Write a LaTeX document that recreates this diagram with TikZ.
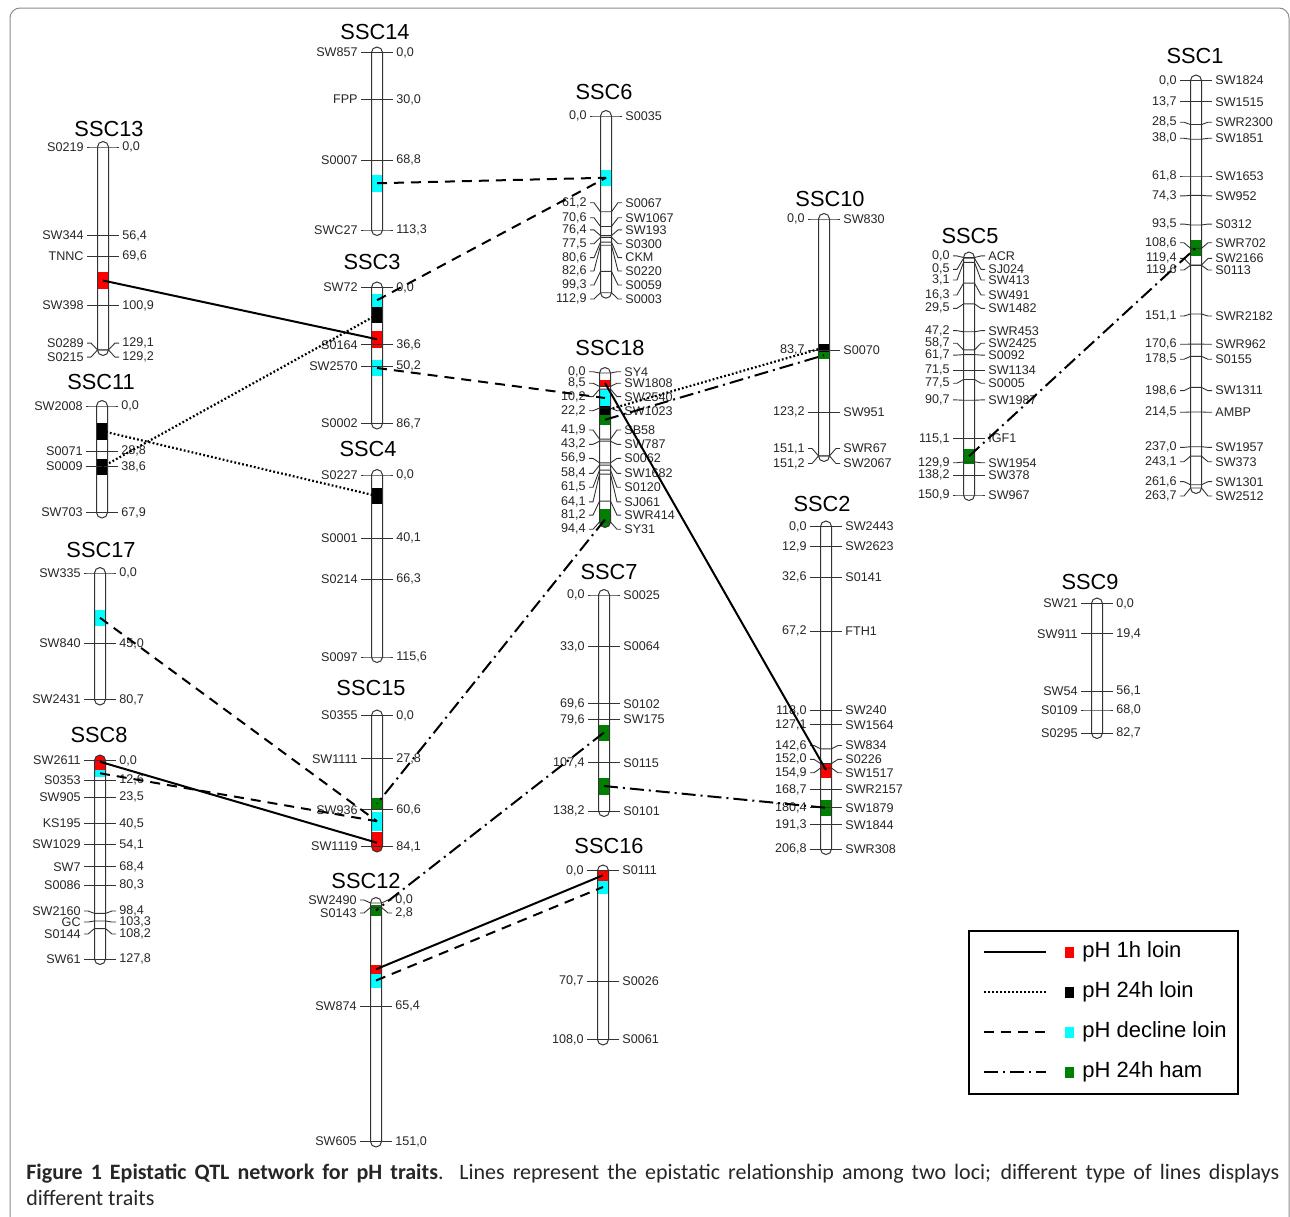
\documentclass[tikz,border=0pt]{standalone}
\usepackage{fontspec}
\setmainfont{Liberation Sans}
\newfontfamily\capfont{Carlito}
\pgfkeys{/pgf/number format/.cd,fixed,fixed zerofill,precision=1,use comma,assume math mode=true}
\definecolor{qred}{RGB}{255,0,0}
\definecolor{qcyan}{RGB}{0,255,255}
\definecolor{qgreen}{RGB}{0,128,0}
\tikzset{
  chrline/.style={draw=black!80,line width=0.5pt,rounded corners=2.75pt},
  tick/.style={black!80,line width=0.45pt},
  mlab/.style={inner sep=0.5pt,text=black!85,font=\fontsize{6.3}{7}\selectfont},
  ctitle/.style={inner sep=0,font=\fontsize{10.9}{12}\selectfont},
  qtl/.style={rectangle,inner sep=0,minimum width=6pt},
  l1h/.style={line width=1pt},
  l24/.style={line width=1.1pt,dash pattern=on 0.9pt off 1.1pt},
  ldec/.style={line width=1pt,dash pattern=on 5pt off 3.5pt},
  lham/.style={line width=1pt,dash pattern=on 7pt off 2.5pt on 1pt off 2.5pt},
  legbox/.style={draw,line width=1.1pt,minimum width=134.5pt,minimum height=81.5pt,inner sep=0},
  legsq/.style={rectangle,inner sep=0,minimum width=4.5pt,minimum height=5.5pt},
  legtext/.style={anchor=west,inner sep=0,font=\fontsize{11}{13}\selectfont},
  caption/.style={anchor=north west,inner sep=0,text width=626.5pt,align=justify,text=black!85,
    font=\capfont\fontsize{11}{13}\selectfont}
}
% QTL block: name, colour, top and bottom (pixels)
\newcommand{\qtl}[4]{\node[qtl,fill=#2,minimum height={(#4-#3)*0.5pt}] (#1) at (0,{(#3+#4)/2-\chya}) {};}
% chromosome: id, side of marker names, x, y of 0 cM, y of last marker, length cM, blocks, markers
\newcommand{\chrom}[8]{%
  \def\chya{#4}%
  \begin{scope}[shift={(#3,#4)}]
    \pgfmathsetmacro\chsc{(#5-#4)/#6}
    \pgfmathsetmacro\chlen{#5-#4}
    \begin{scope}
      \clip[rounded corners=2.75pt] (-5.5,-5.5) rectangle (5.5,\chlen+5.5);
      #7
    \end{scope}
    \draw[chrline] (-5.5,-5.5) rectangle (5.5,\chlen+5.5);
    \foreach \mpos/\lpos/\mname in {#8}{
      \pgfmathsetmacro\yc{\chsc*\mpos}
      \pgfmathsetmacro\yl{\chsc*\lpos}
      \draw[tick] (-16,\yl) -- (-12,\yl) -- (-5.5,\yc) -- (5.5,\yc) -- (12,\yl) -- (16,\yl);
      \if#2L
        \node[mlab,anchor=east] (#1-\mname) at (-18,\yl) {\mname};
        \node[mlab,anchor=west] (#1-\mname-cm) at (18,\yl) {\pgfmathprintnumber{\mpos}};
      \else
        \node[mlab,anchor=east] (#1-\mname-cm) at (-18,\yl) {\pgfmathprintnumber{\mpos}};
        \node[mlab,anchor=west] (#1-\mname) at (18,\yl) {\mname};
      \fi
    }
  \end{scope}}

\begin{document}
\begin{tikzpicture}[x=0.5pt,y=-0.5pt]
\useasboundingbox (0,0) rectangle (1290,1216);
\draw[black!45,line width=0.5pt,rounded corners=5pt] (10,8) rectangle (1289,1240);

% left column
\node[ctitle] (t13) at (109,129) {SSC13};
\chrom{c13}{L}{103}{147}{350}{129.2}{\qtl{b13r}{qred}{272}{289}}
  {0/0/S0219,56.4/56.4/SW344,69.6/69.6/TNNC,100.9/100.9/SW398,129.1/124.8/S0289,129.2/133.7/S0215}
\node[ctitle] (t11) at (101,382) {SSC11};
\chrom{c11}{L}{102}{406}{512.5}{67.9}{\qtl{b11k1}{black}{422.5}{439.5}\qtl{b11k2}{black}{459}{475}}
  {0/0/SW2008,28.8/28.8/S0071,38.6/38.6/S0009,67.9/67.9/SW703}
\node[ctitle] (t17) at (101,550) {SSC17};
\chrom{c17}{L}{100}{573}{699.5}{80.7}{\qtl{b17c}{qcyan}{609.5}{626}}
  {0/0/SW335,45/45/SW840,80.7/80.7/SW2431}
\node[ctitle] (t8) at (99,735) {SSC8};
\chrom{c8}{L}{100}{760.5}{959}{127.8}{\qtl{b8r}{qred}{754}{769.5}\qtl{b8c}{qcyan}{769.5}{777}}
  {0/0/SW2611,12.6/12.6/S0353,23.5/23.5/SW905,40.5/40.5/KS195,54.1/54.1/SW1029,68.4/68.4/SW7,
   80.3/80.3/S0086,98.4/96.9/SW2160,103.3/104/GC,108.2/111.7/S0144,127.8/127.8/SW61}

% second column
\node[ctitle] (t14) at (375,32) {SSC14};
\chrom{c14}{L}{377}{52.5}{230}{113.3}{\qtl{b14c}{qcyan}{175}{191.5}}
  {0/0/SW857,30/30/FPP,68.8/68.8/S0007,113.3/113.3/SWC27}
\node[ctitle] (t3) at (372,262) {SSC3};
\chrom{c3}{L}{377}{287.5}{423.5}{86.7}{\qtl{b3c1}{qcyan}{294}{306.5}\qtl{b3k}{black}{307}{322.5}
  \qtl{b3r}{qred}{331}{347.5}\qtl{b3c2}{qcyan}{360}{376}}
  {0/0/SW72,36.6/36.6/S0164,50.2/50.2/SW2570,86.7/86.7/S0002}
\node[ctitle] (t4) at (368,449) {SSC4};
\chrom{c4}{L}{377}{475}{657}{115.6}{\qtl{b4k}{black}{488}{504}}
  {0/0/S0227,40.1/40.1/S0001,66.3/66.3/S0214,115.6/115.6/S0097}
\node[ctitle] (t15) at (371,688) {SSC15};
\chrom{c15}{L}{377}{715.5}{846.5}{84.1}{\qtl{b15g}{qgreen}{797.5}{810}\qtl{b15c}{qcyan}{811.5}{831}
  \qtl{b15r}{qred}{831.5}{854}}
  {0/0/S0355,27.8/27.8/SW1111,60.6/60.6/SW936,84.1/84.1/SW1119}
\node[ctitle] (t12) at (366,881) {SSC12};
\chrom{c12}{L}{376}{903}{1141.5}{151}{\qtl{b12g}{qgreen}{905}{916}\qtl{b12r}{qred}{965}{973.5}
  \qtl{b12c}{qcyan}{973.5}{987.5}}
  {0/-1.9/SW2490,2.8/6.3/S0143,65.4/65.4/SW874,151/151/SW605}

% third column
\node[ctitle] (t6) at (604,92) {SSC6};
\chrom{c6}{R}{606}{116}{292.7}{112.9}{\qtl{b6c}{qcyan}{169.5}{186}}
  {0/0/S0035,61.2/55.4/S0067,70.6/65.0/SW1067,76.4/72.8/SW193,77.5/81.6/S0300,80.6/90.5/CKM,
   82.6/99.0/S0220,99.3/108.0/S0059,112.9/116.9/S0003}
\node[ctitle] (t18) at (610,348) {SSC18};
\chrom{c18}{R}{605}{373}{522}{94.4}{\qtl{b18r}{qred}{379.5}{386.5}\qtl{b18c}{qcyan}{390}{406}
  \qtl{b18k}{black}{406}{415}\qtl{b18g1}{qgreen}{415}{424.5}\qtl{b18g2}{qgreen}{509}{530}}
  {0/-0.8/SY4,8.5/6.5/SW1808,10.2/15.0/SW2540,22.2/23.9/SW1023,41.9/36.1/SB58,43.2/45.2/SW787,
   56.9/54.1/S0062,58.4/63.6/SW1682,61.5/72.4/S0120,64.1/81.6/SJ061,81.2/90.0/SWR414,94.4/99.0/SY31}
\node[ctitle] (t7) at (609,572) {SSC7};
\chrom{c7}{R}{604}{595}{811}{138.2}{\qtl{b7g1}{qgreen}{724.5}{740.5}\qtl{b7g2}{qgreen}{777.5}{794.5}}
  {0/0/S0025,33/33/S0064,69.6/69.6/S0102,79.6/79.6/SW175,107.4/107.4/S0115,138.2/138.2/S0101}
\node[ctitle] (t16) at (609,846) {SSC16};
\chrom{c16}{R}{603}{870.5}{1039.5}{108}{\qtl{b16r}{qred}{870}{880.5}\qtl{b16c}{qcyan}{880.5}{893.5}}
  {0/0/S0111,70.7/70.7/S0026,108/108/S0061}

% right part
\node[ctitle] (t10) at (830,199) {SSC10};
\chrom{c10}{R}{824}{219}{456}{151.2}{\qtl{b10k}{black}{343.5}{351.5}\qtl{b10g}{qgreen}{351.5}{359}}
  {0/0/SW830,83.7/83.7/S0070,123.2/123.2/SW951,151.1/146.4/SWR67,151.2/156.0/SW2067}
\node[ctitle] (t2) at (822,504) {SSC2};
\chrom{c2}{R}{826}{526.5}{849}{206.8}{\qtl{b2r}{qred}{762.5}{777.5}\qtl{b2g}{qgreen}{799.5}{816}}
  {0/0/SW2443,12.9/12.9/SW2623,32.6/32.6/S0141,67.2/67.2/FTH1,118.0/118.0/SW240,127.1/127.1/SW1564,
   142.6/140.4/SW834,152.0/149.3/S0226,154.9/157.9/SW1517,168.7/168.7/SWR2157,180.4/180.4/SW1879,
   191.3/191.3/SW1844,206.8/206.8/SWR308}
\node[ctitle] (t5) at (970,236) {SSC5};
\chrom{c5}{R}{969}{257.5}{495}{150.9}{\qtl{b5g}{qgreen}{448.5}{464}}
  {0/-1.0/ACR,0.5/7.5/SJ024,3.1/14.3/SW413,16.3/23.8/SW491,29.5/32.3/SW1482,47.2/46.5/SWR453,
   58.7/54.5/SW2425,61.7/62.0/S0092,71.5/71.5/SW1134,77.5/79.9/S0005,90.7/90.5/SW1987,
   115.1/115.1/IGF1,129.9/130.4/SW1954,138.2/138.2/SW378,150.9/150.9/SW967}
\node[ctitle] (t1) at (1195,56) {SSC1};
\chrom{c1}{R}{1196}{80.5}{488}{263.7}{\qtl{b1g}{qgreen}{239.5}{256}}
  {0/0/SW1824,13.7/13.7/SW1515,28.5/27.0/SWR2300,38.0/37.4/SW1851,61.8/61.8/SW1653,74.3/74.7/SW952,
   93.5/92.9/S0312,108.6/105.0/SWR702,119.4/115.1/SW2166,119.6/122.6/S0113,151.1/152.4/SWR2182,
   170.6/170.7/SWR962,178.5/180.4/S0155,198.6/200.7/SW1311,214.5/214.7/AMBP,237.0/237.4/SW1957,
   243.1/246.7/SW373,261.6/259.6/SW1301,263.7/268.9/SW2512}
\node[ctitle] (t9) at (1090,582) {SSC9};
\chrom{c9}{L}{1097}{603.5}{733}{82.7}{}
  {0/0/SW21,19.4/19.4/SW911,56.1/56.1/SW54,68/68/S0109,82.7/82.7/S0295}

% epistatic pairs
\draw[l1h] (b13r.center) -- (b3r.center);
\draw[l1h] (b18r.center) -- (b2r.center);
\draw[l1h] (b8r.center) -- (b15r.center);
\draw[l1h] (b12r.center) -- (b16r.center);
\draw[l24] (b11k2.center) -- (b3k.center);
\draw[l24] (b11k1.center) -- (b4k.center);
\draw[l24] (b18k.center) -- (b10k.center);
\draw[ldec] (b14c.center) -- (b6c.center);
\draw[ldec] (b3c1.center) -- (b6c.center);
\draw[ldec] (b3c2.center) -- (b18c.center);
\draw[ldec] (b17c.center) -- (b15c.center);
\draw[ldec] (b8c.center) -- (b15c.center);
\draw[ldec] (b12c.center) -- (b16c.center);
\draw[lham] (b18g1.center) -- (b10g.center);
\draw[lham] (b18g2.center) -- (b15g.center);
\draw[lham] (b7g1.center) -- (b12g.center);
\draw[lham] (b7g2.center) -- (b2g.center);
\draw[lham] (b5g.center) -- (b1g.center);

% legend
\node[legbox] (leg) at (1103.5,1012.5) {};
\coordinate (lg1a) at (984,952); \coordinate (lg1b) at (1046,952);
\coordinate (lg2a) at (984,992); \coordinate (lg2b) at (1046,992);
\coordinate (lg3a) at (984,1032); \coordinate (lg3b) at (1046,1032);
\coordinate (lg4a) at (984,1072); \coordinate (lg4b) at (1046,1072);
\draw[l1h] (lg1a) -- (lg1b);
\draw[l24,line width=0.9pt] (lg2a) -- (lg2b);
\draw[ldec] (lg3a) -- (lg3b);
\draw[lham] (lg4a) -- (lg4b);
\node[legsq,fill=qred] (lgs1) at (1069,952) {};
\node[legsq,fill=black] (lgs2) at (1069,992) {};
\node[legsq,fill=qcyan] (lgs3) at (1069,1032) {};
\node[legsq,fill=qgreen] (lgs4) at (1069,1072) {};
\node[legtext] (lgt1) at (1082,952) {pH 1h loin};
\node[legtext] (lgt2) at (1082,992) {pH 24h loin};
\node[legtext] (lgt3) at (1082,1032) {pH decline loin};
\node[legtext] (lgt4) at (1082,1072) {pH 24h ham};

\node[caption] (cap) at (26,1164) {\textbf{Figure 1 Epistatic QTL network for pH traits}. Lines represent the epistatic relationship among two loci; different type of lines displays\linebreak different traits};
\end{tikzpicture}
\end{document}
